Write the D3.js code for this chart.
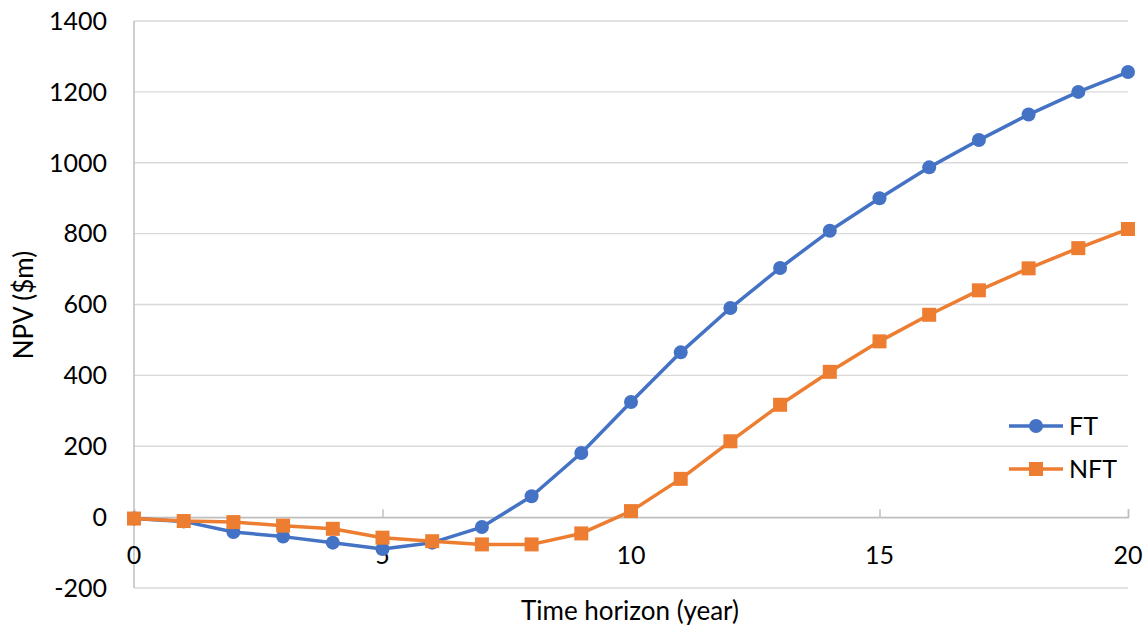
<html><head><script src="https://d3js.org/d3.v7.min.js"></script></head>
<body style="margin:0; background: white;">
<script>
// data
years=[0,1,2,3,4,5,6,7,8,9,10,11,12,13,14,15,16,17,18,19,20];
ft=[-4,-12,-42,-55,-72,-90,-72,-28,59,181,325,465,590,703,808,900,987,1064,1136,1200,1256];
nft=[-4,-11,-14,-24,-33,-58,-68,-77,-77,-46,17,108,214,317,410,496,571,640,702,759,813];
xTicks=[0,5,10,15,20];
yTicks=[-200,0,200,400,600,800,1000,1200,1400];
seriesNames=["FT","NFT"];
colors=["#4472C4","#ED7D31"];

W=1147; H=627;
font="Lato, 'Open Sans', sans-serif";

svg=d3.select("body").append("svg")
.attr("width",W)
.attr("height",H)
.style("font-family",font);

x=d3.scaleLinear().domain([0,20]).range([134,1128]);
y=d3.scaleLinear().domain([-200,1400]).range([588,21]);

// gridlines
svg.append("g")
.selectAll("line")
.data(yTicks)
.enter()
.append("line")
.attr("x1",x(0))
.attr("x2",x(20))
.attr("y1",function(d){return y(d);})
.attr("y2",function(d){return y(d);})
.attr("stroke","#D9D9D9")
.attr("stroke-width",1.3);

// y labels
svg.append("g")
.selectAll("text")
.data(yTicks)
.enter()
.append("text")
.attr("x",107)
.attr("y",function(d){return y(d);})
.attr("dy","0.35em")
.attr("text-anchor","end")
.attr("font-size",25)
.attr("fill","#000")
.text(function(d){return d;});

// vertical axis line
svg.append("line")
.attr("x1",x(0)).attr("x2",x(0))
.attr("y1",y(1400)).attr("y2",y(-200))
.attr("stroke","#BFBFBF").attr("stroke-width",1.5);

// horizontal axis at zero, ticks pointing up
xAxis=d3.axisTop(x).tickValues(xTicks).tickSize(8).tickFormat("");
ax=svg.append("g")
.attr("transform","translate(0,"+y(0)+")")
.call(xAxis);
ax.selectAll("path,line").attr("stroke","#BFBFBF").attr("stroke-width",1.5);

svg.append("g")
.selectAll("text")
.data(xTicks)
.enter()
.append("text")
.attr("x",function(d){return x(d);})
.attr("y",y(0)+47)
.attr("text-anchor","middle")
.attr("font-size",25)
.text(function(d){return d;});

// axis titles
svg.append("text")
.attr("x",630)
.attr("y",620)
.attr("text-anchor","middle")
.attr("font-size",26)
.text("Time horizon (year)");

svg.append("text")
.attr("transform","translate(33,305) rotate(-90)")
.attr("text-anchor","middle")
.attr("font-size",26)
.text("NPV ($m)");

line=d3.line()
.x(function(d){return x(d[0]);})
.y(function(d){return y(d[1]);});

ftData=years.map(function(v,i){return [v,ft[i]];});
nftData=years.map(function(v,i){return [v,nft[i]];});

// FT
svg.append("path")
.datum(ftData)
.attr("d",line)
.attr("fill","none")
.attr("stroke",colors[0])
.attr("stroke-width",3.5)
.attr("stroke-linejoin","round");

svg.append("g")
.selectAll("circle")
.data(ftData)
.enter()
.append("circle")
.attr("cx",function(d){return x(d[0]);})
.attr("cy",function(d){return y(d[1]);})
.attr("r",7)
.attr("fill",colors[0]);

// NFT
svg.append("path")
.datum(nftData)
.attr("d",line)
.attr("fill","none")
.attr("stroke",colors[1])
.attr("stroke-width",3.5)
.attr("stroke-linejoin","round");

svg.append("g")
.selectAll("rect")
.data(nftData)
.enter()
.append("rect")
.attr("x",function(d){return x(d[0])-7;})
.attr("y",function(d){return y(d[1])-7;})
.attr("width",14)
.attr("height",14)
.attr("fill",colors[1]);

// legend
lg=svg.append("g")
.selectAll("g")
.data(seriesNames)
.enter()
.append("g")
.attr("transform",function(d,i){return "translate(1009,"+(426+i*43)+")";});

lg.append("line")
.attr("x1",0).attr("x2",54)
.attr("stroke",function(d,i){return colors[i];})
.attr("stroke-width",3.5);

lg.filter(function(d,i){return i===0;})
.append("circle")
.attr("cx",27).attr("r",7)
.attr("fill",colors[0]);

lg.filter(function(d,i){return i===1;})
.append("rect")
.attr("x",20).attr("y",-7)
.attr("width",14).attr("height",14)
.attr("fill",colors[1]);

lg.append("text")
.attr("x",60)
.attr("dy","0.35em")
.attr("font-size",25)
.text(function(d){return d;});
</script>
</body></html>
